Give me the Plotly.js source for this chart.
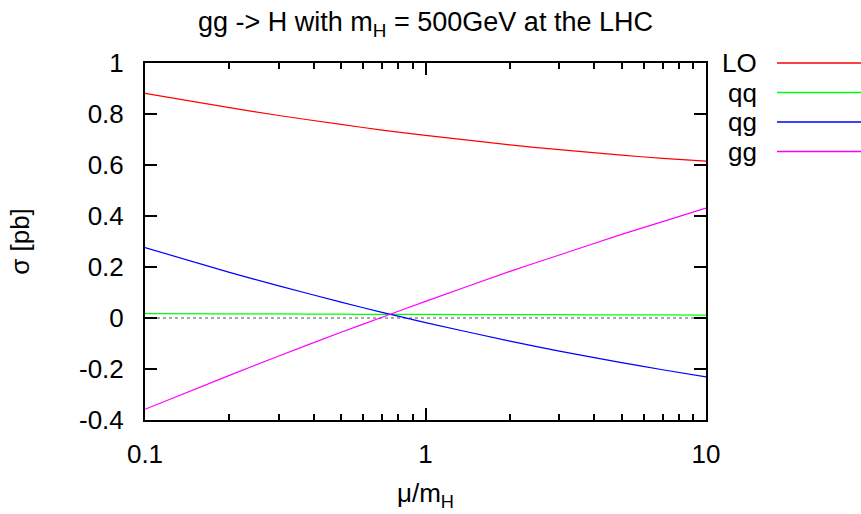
<!DOCTYPE html>
<html>
<head>
<meta charset="utf-8">
<script src="https://cdn.plot.ly/plotly-3.0.1.min.js"></script>
<style>html,body{margin:0;padding:0;background:#fff;}#chart{width:861px;height:514px;}</style>
</head>
<body>
<div id="chart"></div>
<script>
// mu / m_H values
const mu = [0.1, 0.2, 0.3, 0.5, 0.7, 1, 2, 3, 5, 7, 10];
// cross sections [pb]
const sigmaLO = [0.881, 0.825, 0.794, 0.759, 0.737, 0.716, 0.679, 0.660, 0.639, 0.626, 0.615];
const sigmaQQ = [0.017, 0.016, 0.016, 0.015, 0.014, 0.014, 0.013, 0.013, 0.012, 0.012, 0.011];
const sigmaQG = [0.276, 0.179, 0.126, 0.062, 0.022, -0.018, -0.091, -0.130, -0.175, -0.203, -0.231];
const sigmaGG = [-0.358, -0.225, -0.149, -0.056, 0.003, 0.065, 0.183, 0.247, 0.328, 0.378, 0.431];
const seriesNames = ["LO", "qq", "qg", "gg"];
const seriesColors = ["#ff0000", "#00ff00", "#0000ff", "#ff00ff"];
const seriesData = [sigmaLO, sigmaQQ, sigmaQG, sigmaGG];
const yTickVals = [-0.4, -0.2, 0, 0.2, 0.4, 0.6, 0.8, 1];
const yTickText = ["-0.4", "-0.2", "0", "0.2", "0.4", "0.6", "0.8", "1"];
const xTickVals = [0.1, 1, 10];
const xTickText = ["0.1", "1", "10"];
const xMinorVals = [0.2,0.3,0.4,0.5,0.6,0.7,0.8,0.9,2,3,4,5,6,7,8,9];

const FONT = "Liberation Sans, Arial, Helvetica, sans-serif";
const FS = 26;

const traces = seriesData.map((d, i) => ({
  x: mu, y: d, type: "scatter", mode: "lines", name: seriesNames[i],
  line: {color: seriesColors[i], width: 1.2, shape: "spline", smoothing: 0.6},
  showlegend: false, hoverinfo: "skip"
}));

// manual gnuplot-style key
const shapes = [{
  type: "line", xref: "paper", yref: "y", x0: 0, x1: 1, y0: 0, y1: 0,
  line: {color: "#555", width: 1.2, dash: "dot"}, layer: "below"
}];
const annotations = [];
const keyTop = 1.0, keyStep = 29.5 / 357;
seriesNames.forEach((n, i) => {
  const yy = keyTop - i * keyStep;
  annotations.push({
    text: n, xref: "paper", yref: "paper", x: (759 - 145) / 561, y: yy,
    xanchor: "right", yanchor: "middle", showarrow: false,
    font: {family: FONT, size: FS, color: "#000"}
  });
  shapes.push({
    type: "line", xref: "paper", yref: "paper",
    x0: (777 - 145) / 561, x1: (861 - 145) / 561, y0: yy, y1: yy,
    line: {color: seriesColors[i], width: 1.5}
  });
});

const layout = {
  width: 861, height: 514,
  margin: {l: 145, r: 155, t: 63, b: 94, pad: 0},
  paper_bgcolor: "#fff", plot_bgcolor: "#fff",
  font: {family: FONT, size: FS, color: "#000"},
  title: {text: "gg -> H with m<sub>H</sub> = 500GeV at the LHC", x: 425.5 / 861, xanchor: "center",
          y: 1 - 22 / 514, yanchor: "middle", font: {family: FONT, size: 27, color: "#000"}},
  xaxis: {
    type: "log", range: [-1, 1], tickmode: "array", tickvals: xTickVals, ticktext: xTickText,
    ticks: "inside", ticklen: 12, tickwidth: 2, tickcolor: "#000",
    minor: {tickmode: "array", tickvals: xMinorVals, ticks: "inside", ticklen: 6, tickwidth: 2, tickcolor: "#000", showgrid: false},
    showline: true, linewidth: 2, linecolor: "#000", mirror: "ticks",
    showgrid: false, zeroline: false, ticklabelstandoff: 10,
    tickfont: {family: FONT, size: FS, color: "#000"},
    title: {text: "\u03bc/m<sub>H</sub>", font: {family: FONT, size: FS, color: "#000"}, standoff: 16}
  },
  yaxis: {
    range: [-0.4, 1], tickmode: "array", tickvals: yTickVals, ticktext: yTickText,
    ticks: "inside", ticklen: 12, tickwidth: 2, tickcolor: "#000",
    showline: true, linewidth: 2, linecolor: "#000", mirror: "ticks",
    showgrid: false, zeroline: false, ticklabelstandoff: 14,
    tickfont: {family: FONT, size: FS, color: "#000"},
    title: {text: "\u03c3 [pb]", font: {family: FONT, size: FS, color: "#000"}, standoff: 42}
  },
  shapes: shapes,
  annotations: annotations,
  showlegend: false
};

Plotly.newPlot("chart", traces, layout, {displayModeBar: false, staticPlot: true});
</script>
</body>
</html>
